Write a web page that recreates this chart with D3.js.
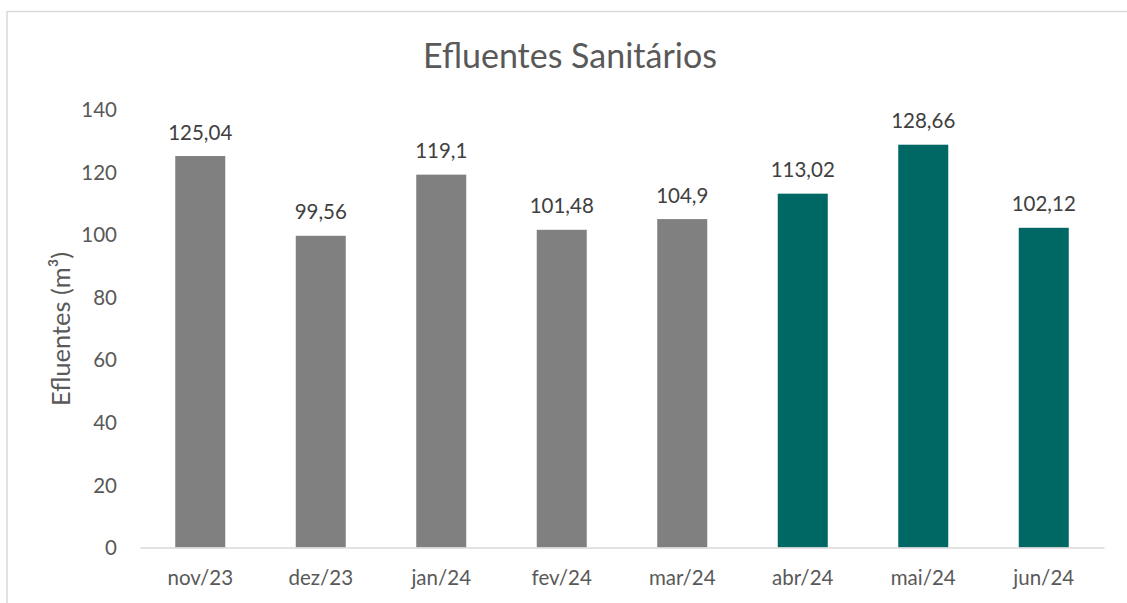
<!DOCTYPE html>
<html>
<head>
<meta charset="utf-8">
<script src="https://cdn.jsdelivr.net/npm/d3@7"></script>
<style>
  html, body { margin: 0; padding: 0; background: #ffffff; }
  svg { display: block; font-family: Lato, "Open Sans", sans-serif; }
</style>
</head>
<body>
<svg id="chart" width="1127" height="603"></svg>
<script>
// Monthly sanitary effluent volume (m³)
const months = ["nov/23", "dez/23", "jan/24", "fev/24", "mar/24", "abr/24", "mai/24", "jun/24"];
const volumes = [125.04, 99.56, 119.1, 101.48, 104.9, 113.02, 128.66, 102.12];
const periodGroup = ["anterior", "anterior", "anterior", "anterior", "anterior", "atual", "atual", "atual"];
const yTicks = [0, 20, 40, 60, 80, 100, 120, 140];

const groupColor = { anterior: "#808080", atual: "#006864" };
const textColor = "#595959";

const svg = d3.select("#chart");
const W = 1127, H = 603;

// chart frame
svg.append("rect")
  .attr("x", 7).attr("y", 11.5)
  .attr("width", W + 20).attr("height", H + 20)
  .attr("fill", "none")
  .attr("stroke", "#d9d9d9")
  .attr("stroke-width", 1.5);

const plot = { left: 140, right: 1104, top: 109.2, bottom: 547.5 };

const x = d3.scaleBand()
  .domain(months)
  .range([plot.left, plot.right])
  .paddingInner(0.585)
  .paddingOuter(0.2925);

const y = d3.scaleLinear()
  .domain([0, 140])
  .range([plot.bottom, plot.top]);

// title
svg.append("text")
  .attr("x", 570).attr("y", 68)
  .attr("text-anchor", "middle")
  .attr("font-size", 34)
  .attr("fill", textColor)
  .text("Efluentes Sanitários");

// y axis tick labels
const yAxis = d3.axisLeft(y).tickValues(yTicks).tickSize(0).tickPadding(0);
const gy = svg.append("g")
  .attr("transform", `translate(${117},0)`)
  .call(yAxis);
gy.select(".domain").remove();
gy.selectAll("text")
  .attr("font-size", 20.5)
  .attr("font-family", "Lato, 'Open Sans', sans-serif")
  .attr("fill", textColor)
  .attr("dy", "0.35em");

// y axis title
svg.append("text")
  .attr("transform", `translate(70,${329}) rotate(-90)`)
  .attr("text-anchor", "middle")
  .attr("font-size", 25.5)
  .attr("fill", textColor)
  .text("Efluentes (m³)");

// bars
svg.append("g").selectAll("rect")
  .data(months)
  .join("rect")
  .attr("x", d => x(d))
  .attr("width", x.bandwidth())
  .attr("y", (d, i) => y(volumes[i]))
  .attr("height", (d, i) => y(0) - y(volumes[i]))
  .attr("fill", (d, i) => groupColor[periodGroup[i]]);

// value labels
const fmt = v => String(v).replace(".", ",");
svg.append("g").selectAll("text")
  .data(months)
  .join("text")
  .attr("x", d => x(d) + x.bandwidth() / 2)
  .attr("y", (d, i) => y(volumes[i]) - 16.5)
  .attr("text-anchor", "middle")
  .attr("font-size", 20.5)
  .attr("fill", "#404040")
  .text((d, i) => fmt(volumes[i]));

// x axis
const xAxis = d3.axisBottom(x).tickSize(0).tickPadding(0);
const gx = svg.append("g")
  .attr("transform", `translate(0,${plot.bottom})`)
  .call(xAxis);
gx.select(".domain")
  .attr("stroke", "#d9d9d9")
  .attr("stroke-width", 1.5);
gx.selectAll("text")
  .attr("font-size", 20.5)
  .attr("font-family", "Lato, 'Open Sans', sans-serif")
  .attr("fill", textColor)
  .attr("dy", 0)
  .attr("y", 585 - plot.bottom);
</script>
</body>
</html>
